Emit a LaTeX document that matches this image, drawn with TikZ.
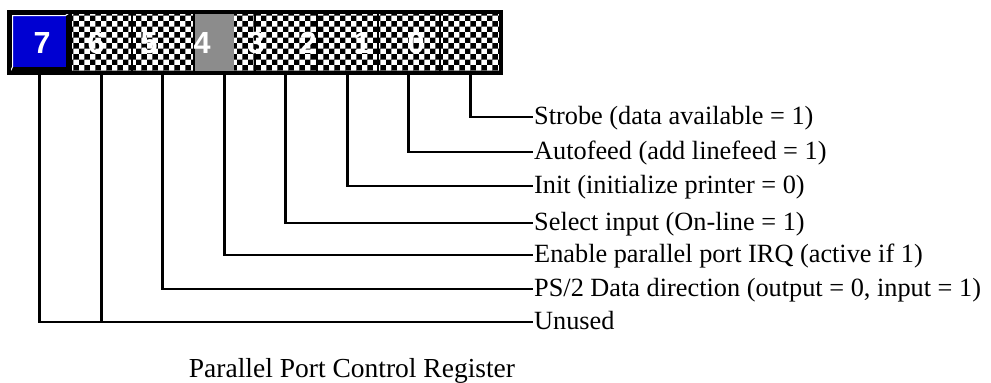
\documentclass[tikz,border=0pt]{standalone}
\usepackage{fontspec}
\setmainfont{Liberation Serif}
\setsansfont{Liberation Sans}
\usepackage{xcolor}
\usetikzlibrary{patterns, positioning, calc}
\definecolor{bitblue}{RGB}{0,0,210}
\tikzset{
    bitcell/.style={rectangle, draw=black, line width=2pt, minimum width=61.5pt, minimum height=61pt, inner sep=0pt, outer sep=0pt},
    bitbox/.style={bitcell, preaction={fill=white}, pattern=checkerboard},
    halfgray/.style={path picture={\fill[gray!90] (path picture bounding box.north west) rectangle ([xshift=40pt]path picture bounding box.south west);}},
    bitnum/.style={font=\sffamily\bfseries\fontsize{30.5}{32}\selectfont, text=white, inner sep=0pt},
    desc/.style={anchor=west, inner sep=1pt, font=\fontsize{26.3}{30}\selectfont, text height=19.7pt, text depth=5.3pt},
    wire/.style={line width=2.6pt, color=black}
}
\begin{document}
\begin{tikzpicture}[x=1pt, y=-1pt]
    \useasboundingbox (0,0) rectangle (991,383);
    \node (b7) [bitcell, fill=black] at (39.75,42.5) {};
    \node (b6) [bitbox, right=0pt of b7] {};
    \node (b5) [bitbox, right=0pt of b6] {};
    \node (b4) [bitbox, halfgray, right=0pt of b5] {};
    \node (b3) [bitbox, right=0pt of b4] {};
    \node (b2) [bitbox, right=0pt of b3] {};
    \node (b1) [bitbox, right=0pt of b2] {};
    \node (b0) [bitbox, right=0pt of b1] {};
    \fill[bitblue] ([shift={(4pt,-4pt)}]b7.north west) rectangle ([shift={(-5pt,6pt)}]b7.south east);
    \draw[white, line width=1pt] ([shift={(1.5pt,2pt)}]b7.south west) -- ([shift={(3.5pt,6pt)}]b7.south west) -- ([shift={(3.5pt,-3.5pt)}]b7.north west) -- ([shift={(-5pt,-3.5pt)}]b7.north east) -- ([shift={(-2pt,-1.5pt)}]b7.north east);
    \draw[line width=4pt] (b7.north west) rectangle (b0.south east);

    \node (d7) [bitnum] at (42,43) {7};
    \node (d6) [bitnum] at (96,43) {6};
    \node (d5) [bitnum] at (149,43) {5};
    \node (d4) [bitnum] at (202,43) {4};
    \node (d3) [bitnum] at (256,43) {3};
    \node (d2) [bitnum] at (308,43) {2};
    \node (d1) [bitnum] at (362,43) {1};
    \node (d0) [bitnum] at (416,43) {0};

    \node (l0) [desc] at (533,117) {Strobe (data available = 1)};
    \node (l1) [desc] at (533,152) {Autofeed (add linefeed = 1)};
    \node (l2) [desc] at (533,186) {Init (initialize printer = 0)};
    \node (l3) [desc] at (533,223) {Select input (On-line = 1)};
    \node (l4) [desc] at (533,255) {Enable parallel port IRQ (active if 1)};
    \node (l5) [desc] at (533,289) {PS/2 Data direction (output = 0, input = 1)};
    \node (lu) [desc] at (533,322) {Unused};

    \draw [wire] (b0.south) |- (l0.west);
    \draw [wire] (b1.south) |- (l1.west);
    \draw [wire] (b2.south) |- (l2.west);
    \draw [wire] (b3.south) |- (l3.west);
    \draw [wire] (b4.south) |- (l4.west);
    \draw [wire] (b5.south) |- (l5.west);
    \draw [wire] (b7.south) |- (lu.west);
    \draw [wire] (b6.south) -- (b6.south |- lu.west);

    \node (title) [font=\fontsize{27.5}{30}\selectfont, anchor=base] at (352,377) {Parallel Port Control Register};
\end{tikzpicture}
\end{document}
